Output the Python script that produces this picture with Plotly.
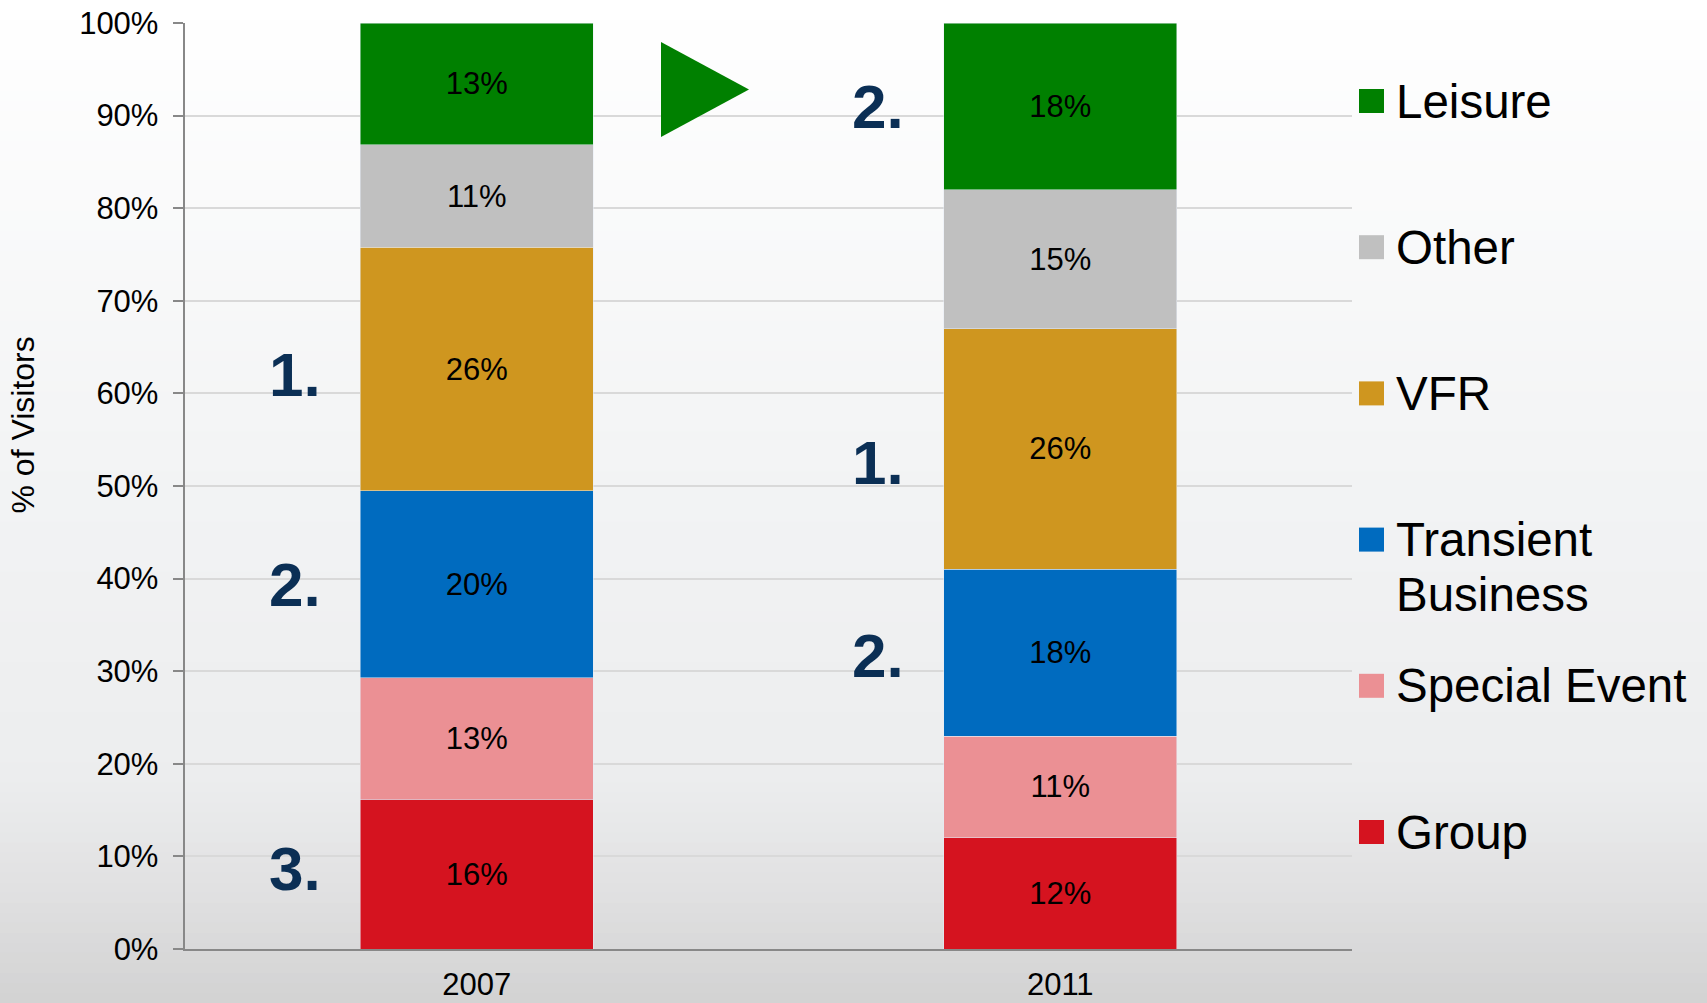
import plotly.graph_objects as go

# ---------------- data ----------------
years = ["2007", "2011"]
segments = ["Group", "Special Event", "Transient Business", "VFR", "Other", "Leisure"]
group = [16, 12]
special_event = [13, 11]
transient_business = [20, 18]
vfr = [26, 26]
other = [11, 15]
leisure = [13, 18]
series_values = [group, special_event, transient_business, vfr, other, leisure]
segment_colors = ["#d5131f", "#eb9094", "#006bbf", "#cf961f", "#c0c0c0", "#008000"]
legend_labels = ["Group", "Special Event", "Transient<br>Business", "VFR", "Other", "Leisure"]
y_ticks = [0, 10, 20, 30, 40, 50, 60, 70, 80, 90, 100]

# rank call-outs next to the bars
rank_years = ["2007", "2007", "2007", "2011", "2011", "2011"]
rank_segments = ["VFR", "Transient Business", "Group", "Leisure", "VFR", "Transient Business"]
rank_labels = ["1.", "2.", "3.", "2.", "1.", "2."]
rank_nudge_px = [-5, 0, 6, 0, -14, -3]   # small manual placement offsets

# ---------------- geometry helpers ----------------
W, H = 1707, 1003
ML, MR, MT, MB = 185, 355, 23, 54
PW, PH = W - ML - MR, H - MT - MB


def px2x(px):
    return (px - ML) / PW


def py2y(py):
    return (H - MB - py) / PH


FONT = "Liberation Sans, Arial, sans-serif"
PAD = "\u00a0"

fig = go.Figure()

for name, vals, col in zip(segments, series_values, segment_colors):
    fig.add_trace(go.Bar(
        x=years, y=vals, name=name, text=[str(v) + "%" for v in vals],
        textposition="inside", insidetextanchor="middle", textangle=0,
        textfont=dict(family=FONT, size=31, color="#000000"),
        marker=dict(color=col),
        showlegend=False,
    ))

shapes = []

# background gradient (whole page)
stops = [(0.0, (255, 255, 255)), (0.45, (243, 244, 245)), (0.78, (236, 237, 238)),
         (0.9, (223, 223, 224)), (1.0, (210, 210, 210))]


def grad(t):
    for (t0, c0), (t1, c1) in zip(stops[:-1], stops[1:]):
        if t0 <= t <= t1:
            f = (t - t0) / (t1 - t0) if t1 > t0 else 0
            return tuple(round(a + (b - a) * f) for a, b in zip(c0, c1))
    return stops[-1][1]


NB = 100
for i in range(NB):
    p0 = H * i / NB
    p1 = H * (i + 1) / NB + 1
    c = grad((i + 0.5) / NB)
    shapes.append(dict(type="rect", xref="paper", yref="paper",
                       x0=px2x(-5), x1=px2x(W + 5), y0=py2y(p1), y1=py2y(p0),
                       fillcolor="rgb(%d,%d,%d)" % c, line=dict(width=0), layer="below"))

# green arrow triangle
shapes.append(dict(type="path", xref="paper", yref="paper",
                   path="M %f,%f L %f,%f L %f,%f Z" % (px2x(661), py2y(42), px2x(661), py2y(137),
                                                        px2x(749), py2y(89.5)),
                   fillcolor="#008000", line=dict(width=0), layer="above"))

annotations = []

# y-axis title
annotations.append(dict(xref="paper", yref="paper", x=px2x(22.5), y=py2y(425),
                        xanchor="center", yanchor="middle", textangle=-90, showarrow=False,
                        text="% of Visitors", font=dict(family=FONT, size=32, color="#000000")))

# manual legend (top to bottom: reverse stacking order)
leg_order = list(range(len(segments)))[::-1]
for k, idx in enumerate(leg_order):
    cy = 101 + k * 146.2
    shapes.append(dict(type="rect", xref="paper", yref="paper",
                       x0=px2x(1359), x1=px2x(1384), y0=py2y(cy + 12), y1=py2y(cy - 12),
                       fillcolor=segment_colors[idx], line=dict(width=0), layer="above"))
    for ln, line_text in enumerate(legend_labels[idx].split("<br>")):
        annotations.append(dict(xref="paper", yref="paper", x=px2x(1394), y=py2y(cy + ln * 55),
                                xanchor="left", yanchor="middle", showarrow=False, align="left",
                                text=line_text,
                                font=dict(family=FONT, size=47.5, color="#000000")))

# rank call-outs at segment centres
cat_px = {yr: ML + PW * (j + 0.5) / len(years) for j, yr in enumerate(years)}
for yr, seg, lab, nudge in zip(rank_years, rank_segments, rank_labels, rank_nudge_px):
    j = years.index(yr)
    total = sum(v[j] for v in series_values)
    si = segments.index(seg)
    below = sum(series_values[s][j] for s in range(si)) / total * 100
    mid = below + series_values[si][j] / total * 100 / 2
    annotations.append(dict(xref="paper", yref="y", x=px2x(cat_px[yr] - 182), y=mid, yshift=nudge,
                            xanchor="center", yanchor="middle", showarrow=False,
                            text="<b>%s</b>" % lab,
                            font=dict(family=FONT, size=62, color="#0b2f55")))

fig.update_layout(
    barmode="stack", barnorm="percent", bargap=0.6,
    width=W, height=H,
    margin=dict(l=ML, r=MR, t=MT, b=MB, autoexpand=False),
    paper_bgcolor="#d2d2d2", plot_bgcolor="rgba(0,0,0,0)",
    font=dict(family=FONT, color="#000000"),
    shapes=shapes, annotations=annotations,
    xaxis=dict(type="category", showline=True, linecolor="#888888", linewidth=1.5,
               ticks="outside", ticklen=7, tickcolor="rgba(0,0,0,0)",
               tickfont=dict(family=FONT, size=31),
               showgrid=False, zeroline=False),
    yaxis=dict(range=[0, 100], tickmode="array", tickvals=y_ticks,
               ticktext=[str(t) + "%" + PAD for t in y_ticks],
               showgrid=True, gridcolor="#d9d9d9", gridwidth=1.5,
               showline=True, linecolor="#888888", linewidth=1.5,
               ticks="outside", ticklen=10, tickcolor="#888888", tickwidth=1.5,
               tickfont=dict(family=FONT, size=31),
               zeroline=False),
)

fig.write_html("out.html", config={"displayModeBar": False},
               post_script="document.body.style.margin='0';document.body.style.overflow='hidden';")
